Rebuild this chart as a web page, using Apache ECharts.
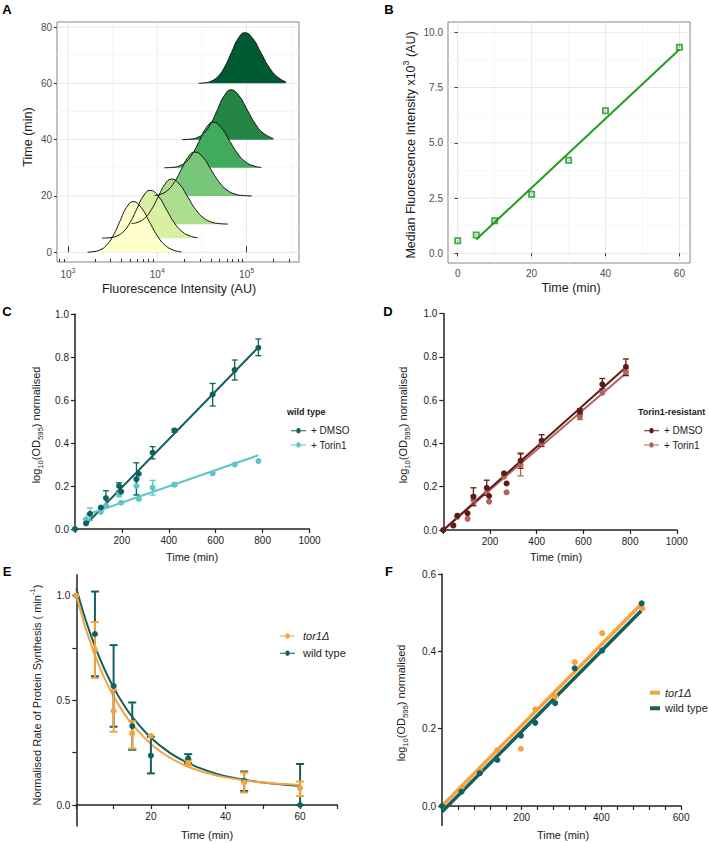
<!DOCTYPE html>
<html>
<head>
<meta charset="utf-8">
<script src="https://cdn.jsdelivr.net/npm/echarts@6/dist/echarts.min.js"></script>
<style>
html,body{margin:0;padding:0;background:#ffffff;}
#chart{width:709px;height:843px;}
</style>
</head>
<body>
<div id="chart"></div>
<script>
// ================= DATA =================
// Panel A: ridgelines, x = log10(fluorescence), y = time baseline + density height
const ridgeTimes = [60, 40, 30, 20, 10, 5, 0];
const ridge60 = [[4.46,60.05],[4.53,60.2],[4.605,60.79],[4.68,62.44],[4.755,65.84],[4.83,70.92],[4.905,75.89],[4.98,78],[5.07,75.89],[5.16,70.92],[5.25,65.84],[5.34,62.44],[5.44,60.5]];
const ridge40 = [[4.28,40.03],[4.375,40.2],[4.45,40.78],[4.525,42.39],[4.60,45.75],[4.675,50.74],[4.75,55.62],[4.825,57.7],[4.915,55.62],[5.005,50.74],[5.095,45.75],[5.185,42.39],[5.30,40.4]];
const ridge30 = [[4.08,30.03],[4.175,30.18],[4.25,30.71],[4.325,32.19],[4.40,35.26],[4.475,39.83],[4.55,44.30],[4.625,46.2],[4.715,44.30],[4.805,39.83],[4.895,35.26],[4.985,32.19],[5.075,30.71],[5.165,30.18]];
const ridge20 = [[3.97,20.17],[4.045,20.68],[4.12,22.11],[4.195,25.07],[4.27,29.46],[4.345,33.77],[4.42,35.6],[4.51,33.77],[4.60,29.46],[4.69,25.07],[4.78,22.11],[4.87,20.68],[4.96,20.17],[5.06,20.03]];
const ridge10 = [[3.71,10.18],[3.785,10.70],[3.86,12.16],[3.935,15.20],[4.01,19.70],[4.085,24.12],[4.16,26],[4.25,24.12],[4.34,19.70],[4.43,15.20],[4.52,12.16],[4.61,10.70],[4.70,10.18],[4.79,10.03]];
const ridge5  = [[3.38,5.03],[3.47,5.19],[3.545,5.75],[3.62,7.30],[3.695,10.52],[3.77,15.31],[3.845,20.0],[3.92,22],[4.01,20.0],[4.10,15.31],[4.19,10.52],[4.28,7.30],[4.37,5.75],[4.45,5.15]];
const ridge0  = [[3.22,0.05],[3.28,0.2],[3.355,0.79],[3.43,2.44],[3.505,5.84],[3.58,10.92],[3.655,15.89],[3.73,18],[3.82,15.89],[3.91,10.92],[4.00,5.84],[4.09,2.44],[4.18,0.79],[4.27,0.15]];
const ridgeData = [ridge60, ridge40, ridge30, ridge20, ridge10, ridge5, ridge0];
const aMajorTickValues = [1000, 10000, 100000];
const aMinorTickValues = [800, 900, 2000, 3000, 4000, 5000, 6000, 7000, 8000, 9000, 20000, 30000, 40000, 50000, 60000, 70000, 80000, 90000, 200000, 300000];
const aYTicks = [0, 20, 40, 60, 80];
const aGridMajorX = [3, 4, 5], aGridMinorX = [3.5, 4.5, 5.5];
const aGridMajorY = [0, 20, 40, 60, 80], aGridMinorY = [10, 30, 50, 70];

// Panel B
const bTime = [0, 5, 10, 20, 30, 40, 60];
const bMedian = [0.57, 0.83, 1.47, 2.67, 4.21, 6.45, 9.32];
const bFit = [[5, 0.62], [60, 9.22]];
const bXTicks = [0, 20, 40, 60], bYTicks = [0, 2.5, 5, 7.5, 10];
const bGridMajorX = [0, 20, 40, 60], bGridMinorX = [10, 30, 50];
const bGridMajorY = [0, 2.5, 5, 7.5, 10], bGridMinorY = [1.25, 3.75, 6.25, 8.75];

// Panel C (wild type)
const cTime = [0, 47, 64, 110, 132, 188, 197, 262, 272, 331, 424, 587, 681, 782];
const cDmso = [0, 0.026, 0.071, 0.10, 0.144, 0.20, 0.174, 0.231, 0.257, 0.355, 0.459, 0.626, 0.74, 0.843];
const cTorin = [0, 0.045, 0.068, 0.08, 0.108, 0.161, 0.122, 0.20, 0.14, 0.192, 0.206, 0.259, 0.30, 0.316];
const cDmsoErr = [[132,0.108,0.178],[188,0.176,0.215],[262,0.158,0.308],[331,0.326,0.383],[424,0.45,0.465],[587,0.572,0.677],[681,0.693,0.786],[782,0.806,0.884]];
const cTorinErr = [[64,0.04,0.098],[188,0.15,0.172],[262,0.16,0.24],[331,0.158,0.226],[424,0.20,0.213]];
const cDmsoFit = [[45, 0.02], [782, 0.845]];
const cTorinFit = [[47, 0.065], [782, 0.343]];

// Panel D (Torin1-resistant)
const dTime = [0, 43, 60, 104, 129, 186, 196, 260, 271, 331, 421, 585, 681, 782];
const dDmso = [0, 0.022, 0.066, 0.077, 0.154, 0.195, 0.157, 0.262, 0.215, 0.32, 0.413, 0.547, 0.673, 0.754];
const dTorin = [0, 0.02, 0.06, 0.051, 0.139, 0.172, 0.131, 0.246, 0.174, 0.30, 0.40, 0.523, 0.634, 0.731];
const dDmsoErr = [[129,0.112,0.195],[186,0.16,0.23],[331,0.285,0.355],[421,0.386,0.44],[585,0.535,0.56],[681,0.652,0.70],[782,0.713,0.79]];
const dTorinErr = [[129,0.12,0.16],[331,0.25,0.35],[585,0.51,0.535],[782,0.72,0.745]];
const dDmsoFit = [[0, 0], [782, 0.752]];
const dTorinFit = [[0, 0], [782, 0.724]];

// Panel E
const eTime = [0, 5, 10, 15, 20, 30, 45, 60];
const eTor = [1.0, 0.74, 0.45, 0.342, 0.331, 0.202, 0.108, 0.08];
const eWt = [1.0, 0.817, 0.569, 0.377, 0.236, 0.223, 0.115, 0.0];
const eTorErr = [[5,0.607,0.874],[10,0.35,0.55],[15,0.27,0.40],[30,0.19,0.215],[45,0.06,0.155],[60,0.043,0.112]];
const eWtErr = [[5,0.615,1.02],[10,0.374,0.764],[15,0.264,0.49],[20,0.151,0.326],[30,0.20,0.243],[45,0.067,0.16],[60,0.0,0.196]];
const eFitT = [0, 2.5, 5, 7.5, 10, 12.5, 15, 20, 25, 30, 35, 40, 50, 60];
const eTorFit = [1.0, 0.845, 0.716, 0.609, 0.520, 0.446, 0.385, 0.292, 0.227, 0.183, 0.153, 0.132, 0.107, 0.096];
const eWtFit = [1.035, 0.885, 0.758, 0.651, 0.561, 0.485, 0.421, 0.321, 0.250, 0.200, 0.164, 0.138, 0.107, 0.091];

// Panel F
const fTorT = [0, 49, 95, 139, 198, 234, 284, 333, 402, 503];
const fTor = [0, 0.047, 0.091, 0.145, 0.148, 0.25, 0.283, 0.372, 0.447, 0.511];
const fWtT = [0, 49, 95, 139, 198, 234, 284, 333, 402, 501];
const fWt = [0, 0.037, 0.085, 0.119, 0.182, 0.215, 0.266, 0.356, 0.402, 0.524];
const fTorFit = [[0, 0.0], [500, 0.522]];
const fWtFit = [[0, -0.015], [500, 0.505]];

// ================= STYLES =================
const ridgeColors = ['#005a32', '#238443', '#41ab5d', '#78c679', '#addd8e', '#d9f0a3', '#ffffcc'];
const TEAL = '#12615e', CYAN = '#5cc5c9', BROWN = '#5c1d16', ROSE = '#b3625f', ORANGE = '#f6a23f', GREEN = '#1f9e1f';
const FONT = 'Liberation Sans, Arial, sans-serif';
const zip = (a, b) => a.map((v, i) => [v, b[i]]);
const lineDotIcon = 'path://M0,3.25H7.5A3,3 0 0 1 13.5,3.25H21V4.75H13.5A3,3 0 0 1 7.5,4.75H0Z';

function gridLines(xi, yi, vals, dir, color, w) {
  return {
    type: 'custom', xAxisIndex: xi, yAxisIndex: yi, silent: true, z: 0, animation: false,
    data: vals.map(v => [v, v]), encode: { x: 0, y: 1 },
    renderItem: (params, api) => {
      const cs = params.coordSys, v = api.value(0);
      if (dir === 'v') {
        const px = api.coord([v, v])[0];
        return { type: 'line', shape: { x1: px, y1: cs.y, x2: px, y2: cs.y + cs.height }, style: { stroke: color, lineWidth: w } };
      }
      const py = api.coord([v, v])[1];
      return { type: 'line', shape: { x1: cs.x, y1: py, x2: cs.x + cs.width, y2: py }, style: { stroke: color, lineWidth: w } };
    }
  };
}
function errBars(xi, yi, data, color, cap, w) {
  return {
    type: 'custom', xAxisIndex: xi, yAxisIndex: yi, silent: true, z: 3, animation: false, clip: false,
    data: data, encode: { x: 0, y: [1, 2] },
    renderItem: (params, api) => {
      const x = api.value(0), a = api.coord([x, api.value(1)]), b = api.coord([x, api.value(2)]);
      const st = { stroke: color, lineWidth: w };
      return { type: 'group', children: [
        { type: 'line', shape: { x1: a[0], y1: a[1], x2: b[0], y2: b[1] }, style: st },
        { type: 'line', shape: { x1: a[0] - cap, y1: a[1], x2: a[0] + cap, y2: a[1] }, style: st },
        { type: 'line', shape: { x1: b[0] - cap, y1: b[1], x2: b[0] + cap, y2: b[1] }, style: st }
      ] };
    }
  };
}
function prismX(gi, min, max, interval, fmt) {
  return { gridIndex: gi, type: 'value', min: min, max: max, interval: interval,
    axisLine: { show: true, onZero: false, lineStyle: { color: '#222', width: 1.5 } },
    axisTick: { show: true, length: 4, lineStyle: { color: '#222', width: 1.2 } },
    axisLabel: { formatter: fmt, fontSize: 10, color: '#222', fontFamily: FONT, margin: 6 },
    splitLine: { show: false } };
}
function prismY(gi, min, max, interval, custom, labels, showLine) {
  const ax = { gridIndex: gi, type: 'value', min: min, max: max,
    axisLine: { show: showLine !== false, onZero: false, lineStyle: { color: '#222', width: 1.5 } },
    axisTick: { show: true, length: 4, lineStyle: { color: '#222', width: 1.2 } },
    axisLabel: { formatter: v => v.toFixed(1), fontSize: 10, color: '#222', fontFamily: FONT, margin: 6 },
    splitLine: { show: false } };
  if (interval) ax.interval = interval;
  if (custom) { ax.axisTick.customValues = custom; ax.axisLabel.customValues = labels; }
  return ax;
}
function lineOnlyY(gi, min, max) {
  return { gridIndex: gi, type: 'value', min: min, max: max,
    axisLine: { show: true, onZero: false, lineStyle: { color: '#222', width: 1.5 } },
    axisTick: { show: false }, axisLabel: { show: false }, splitLine: { show: false } };
}
function hiddenX(gi) {
  return { gridIndex: gi, type: 'value', min: 0, max: 1, show: false };
}
function txt(x, y, text, size, opts) {
  opts = opts || {};
  return { type: 'text', x: x, y: y, rotation: opts.rot || 0, silent: true,
    style: { text: text, fill: opts.color || '#1a1a1a', fontSize: size, fontFamily: FONT,
      fontWeight: opts.bold ? 'bold' : 'normal', align: opts.align || 'center', verticalAlign: 'middle',
      textAlign: opts.align || 'center', textVerticalAlign: 'middle', lineHeight: size + 6,
      rich: { sub: { fontSize: size * 0.7, fontFamily: FONT, verticalAlign: 'bottom', fill: opts.color || '#1a1a1a' },
              sup: { fontSize: size * 0.7, fontFamily: FONT, verticalAlign: 'top', fill: opts.color || '#1a1a1a' } } } };
}

// ================= OPTION =================
const greyLabel = { color: '#4d4d4d', fontSize: 10, fontFamily: FONT, margin: 5 };
const greyTick = { show: true, length: 3, lineStyle: { color: '#333', width: 1 } };

const option = {
  animation: false,
  backgroundColor: '#ffffff',
  grid: [
    { left: 57, top: 22, width: 242, height: 240, show: true, borderColor: '#858585', borderWidth: 1 },
    { left: 448, top: 22, width: 242, height: 241, show: true, borderColor: '#858585', borderWidth: 1 },
    { left: 75, top: 314, width: 234.5, height: 215 },
    { left: 443.3, top: 313.5, width: 233.5, height: 216.5 },
    { left: 76.3, top: 574.8, width: 261.1, height: 230.2 },
    { left: 442, top: 574, width: 239.1, height: 232 },
    { left: 76.3, top: 574.8, width: 261.1, height: 251.2 },
    { left: 442, top: 574, width: 239.1, height: 251.4 }
  ],
  xAxis: [
    { gridIndex: 0, type: 'value', min: 2.877, max: 5.587, axisLine: { show: false }, splitLine: { show: false },
      axisTick: { show: true, inside: true, length: 6, customValues: aMajorTickValues.map(Math.log10), lineStyle: { color: '#333' } },
      axisLabel: Object.assign({}, greyLabel, { customValues: aMajorTickValues.map(Math.log10), lineHeight: 14,
        formatter: v => '10{sup|' + Math.round(v) + '}', rich: { sup: { fontSize: 7, verticalAlign: 'top', color: '#4d4d4d', fontFamily: FONT } } }) },
    { gridIndex: 0, type: 'value', position: 'bottom', min: 2.877, max: 5.587, axisLine: { show: false }, splitLine: { show: false },
      axisTick: { show: true, inside: true, length: 3, customValues: aMinorTickValues.map(Math.log10), lineStyle: { color: '#333' } },
      axisLabel: { show: false } },
    { gridIndex: 1, type: 'value', min: -2.63, max: 62.87, axisLine: { show: false }, splitLine: { show: false },
      axisTick: Object.assign({ customValues: bXTicks }, greyTick),
      axisLabel: Object.assign({ customValues: bXTicks }, greyLabel) },
    prismX(2, 0, 1000, 200, v => v === 0 ? '' : String(v)),
    prismX(3, 0, 1000, 200, v => v === 0 ? '' : String(v)),
    prismX(4, 0, 70, 10, v => (v === 20 || v === 40 || v === 60) ? String(v) : ''),
    prismX(5, 0, 600, 40, v => (v > 0 && v % 200 === 0) ? String(v) : ''),
    hiddenX(6),
    hiddenX(7)
  ],
  yAxis: [
    { gridIndex: 0, type: 'value', min: -3.45, max: 81.8, axisLine: { show: false }, splitLine: { show: false },
      axisTick: Object.assign({ customValues: aYTicks }, greyTick),
      axisLabel: Object.assign({ customValues: aYTicks }, greyLabel) },
    { gridIndex: 1, type: 'value', min: -0.439, max: 10.466, axisLine: { show: false }, splitLine: { show: false },
      axisTick: Object.assign({ customValues: bYTicks }, greyTick),
      axisLabel: Object.assign({ customValues: bYTicks, formatter: v => v.toFixed(1) }, greyLabel) },
    prismY(2, 0, 1, 0.2),
    prismY(3, 0, 1, 0.2),
    prismY(4, 0, 1.1, null, [0, 0.25, 0.5, 0.75, 1], [0, 0.5, 1], false),
    prismY(5, 0, 0.6, 0.2, null, null, false),
    lineOnlyY(6, -0.1, 1.1),
    lineOnlyY(7, -0.05, 0.6)
  ],
  legend: [
    { left: 286, top: 419.7, orient: 'vertical', itemWidth: 15, itemHeight: 6, itemGap: 2.3, selectedMode: false,
      formatter: n => n.slice(2), textStyle: { fontSize: 10, lineHeight: 12, color: '#222', fontFamily: FONT },
      data: [{ name: 'C|+ DMSO', icon: lineDotIcon }, { name: 'C|+ Torin1', icon: lineDotIcon }] },
    { left: 639, top: 419.7, orient: 'vertical', itemWidth: 15, itemHeight: 6, itemGap: 2.3, selectedMode: false,
      formatter: n => n.slice(2), textStyle: { fontSize: 10, lineHeight: 12, color: '#222', fontFamily: FONT },
      data: [{ name: 'D|+ DMSO', icon: lineDotIcon }, { name: 'D|+ Torin1', icon: lineDotIcon }] },
    { left: 275, top: 625, orient: 'vertical', itemWidth: 15, itemHeight: 6, itemGap: 5.3, selectedMode: false,
      formatter: n => n.slice(2), textStyle: { fontSize: 11, lineHeight: 12, color: '#222', fontFamily: FONT, padding: [0, 0, 0, 3] },
      data: [{ name: 'E|tor1Δ', icon: lineDotIcon, textStyle: { fontStyle: 'italic' } }, { name: 'E|wild type', icon: lineDotIcon }] },
    { left: 645, top: 681.7, orient: 'vertical', itemWidth: 10, itemHeight: 4, itemGap: 3.6, selectedMode: false,
      formatter: n => n.slice(2), textStyle: { fontSize: 11, lineHeight: 12, color: '#222', fontFamily: FONT },
      data: [{ name: 'F|tor1Δ', icon: 'rect', textStyle: { fontStyle: 'italic' } }, { name: 'F|wild type', icon: 'rect' }] }
  ],
  graphic: { elements: [
    txt(7, 9, 'A', 13, { bold: true, color: '#000' }),
    txt(389, 9, 'B', 13, { bold: true, color: '#000' }),
    txt(7, 311, 'C', 13, { bold: true, color: '#000' }),
    txt(388, 311, 'D', 13, { bold: true, color: '#000' }),
    txt(7, 571, 'E', 13, { bold: true, color: '#000' }),
    txt(389, 571, 'F', 13, { bold: true, color: '#000' }),
    txt(179, 289, 'Fluorescence Intensity (AU)', 12.5),
    txt(28, 137, 'Time (min)', 12.5, { rot: Math.PI / 2 }),
    txt(571, 288, 'Time (min)', 12.5),
    txt(411, 145, 'Median Fluorescence Intensity x10{sup|3} (AU)', 12.5, { rot: Math.PI / 2 }),
    txt(192, 556.7, 'Time (min)', 11),
    txt(36, 425, 'log{sub|10}(OD{sub|595}) normalised', 11, { rot: Math.PI / 2 }),
    txt(556, 556.7, 'Time (min)', 11),
    txt(402.5, 425, 'log{sub|10}(OD{sub|595}) normalised', 11, { rot: Math.PI / 2 }),
    txt(287, 411.7, 'wild type', 9, { bold: true, align: 'left' }),
    txt(638, 411.7, 'Torin1-resistant', 9, { bold: true, align: 'left' }),
    txt(207, 835, 'Time (min)', 11),
    txt(37, 695, 'Normalised Rate of Protein Synthesis ( min{sup|-1})', 11, { rot: Math.PI / 2 }),
    txt(563, 835, 'Time (min)', 11),
    txt(401, 703, 'log{sub|10}(OD{sub|595}) normalised', 11, { rot: Math.PI / 2 })
  ] },
  series: []
};

const S = option.series;
// ---- Panel A
S.push(gridLines(0, 0, aGridMajorX, 'v', '#e8e8e8', 1));
S.push(gridLines(0, 0, aGridMinorX, 'v', '#f2f2f2', 0.6));
S.push(gridLines(0, 0, aGridMajorY, 'h', '#e8e8e8', 1));
S.push(gridLines(0, 0, aGridMinorY, 'h', '#f2f2f2', 0.6));
ridgeData.forEach((d, i) => {
  S.push({ type: 'line', xAxisIndex: 0, yAxisIndex: 0, data: d, smooth: 0.5, symbol: 'none', z: 2,
    lineStyle: { color: '#111', width: 1 },
    areaStyle: { color: ridgeColors[i], opacity: 1, origin: ridgeTimes[i] } });
});
// ---- Panel B
S.push(gridLines(2, 1, bGridMajorX, 'v', '#e8e8e8', 1));
S.push(gridLines(2, 1, bGridMinorX, 'v', '#f2f2f2', 0.6));
S.push(gridLines(2, 1, bGridMajorY, 'h', '#e8e8e8', 1));
S.push(gridLines(2, 1, bGridMinorY, 'h', '#f2f2f2', 0.6));
S.push({ type: 'line', xAxisIndex: 2, yAxisIndex: 1, data: bFit, symbol: 'none', z: 2, lineStyle: { color: GREEN, width: 2 } });
S.push({ type: 'scatter', xAxisIndex: 2, yAxisIndex: 1, data: zip(bTime, bMedian), z: 3,
  symbol: 'path://M0,0H10V10H0Z M2.6,2.6V7.4H7.4V2.6Z M3.2,3.2L5,4.5L6.8,3.2L5.5,5L6.8,6.8L5,5.5L3.2,6.8L4.5,5Z',
  symbolSize: 7, itemStyle: { color: '#199419' } });
// ---- Panel C
S.push({ type: 'line', xAxisIndex: 3, yAxisIndex: 2, data: cDmsoFit, symbol: 'none', z: 2, lineStyle: { color: TEAL, width: 2 } });
S.push({ type: 'line', xAxisIndex: 3, yAxisIndex: 2, data: cTorinFit, symbol: 'none', z: 2, lineStyle: { color: CYAN, width: 2 } });
S.push(errBars(3, 2, cTorinErr, CYAN, 3, 1.3));
S.push(errBars(3, 2, cDmsoErr, TEAL, 3, 1.3));
S.push({ name: 'C|+ Torin1', type: 'scatter', xAxisIndex: 3, yAxisIndex: 2, data: zip(cTime, cTorin), symbolSize: 6, z: 4, itemStyle: { color: CYAN, opacity: 1 } });
S.push({ name: 'C|+ DMSO', type: 'scatter', xAxisIndex: 3, yAxisIndex: 2, data: zip(cTime, cDmso), symbolSize: 6, z: 4, itemStyle: { color: TEAL, opacity: 1 } });
// ---- Panel D
S.push({ type: 'line', xAxisIndex: 4, yAxisIndex: 3, data: dTorinFit, symbol: 'none', z: 2, lineStyle: { color: ROSE, width: 2 } });
S.push({ type: 'line', xAxisIndex: 4, yAxisIndex: 3, data: dDmsoFit, symbol: 'none', z: 2, lineStyle: { color: BROWN, width: 2 } });
S.push(errBars(4, 3, dTorinErr, ROSE, 3, 1.3));
S.push(errBars(4, 3, dDmsoErr, BROWN, 3, 1.3));
S.push({ name: 'D|+ Torin1', type: 'scatter', xAxisIndex: 4, yAxisIndex: 3, data: zip(dTime, dTorin), symbolSize: 6, z: 4, itemStyle: { color: ROSE, opacity: 1 } });
S.push({ name: 'D|+ DMSO', type: 'scatter', xAxisIndex: 4, yAxisIndex: 3, data: zip(dTime, dDmso), symbolSize: 6, z: 4, itemStyle: { color: BROWN, opacity: 1 } });
// ---- Panel E
S.push({ type: 'line', xAxisIndex: 5, yAxisIndex: 4, data: zip(eFitT, eWtFit), smooth: 0.3, symbol: 'none', z: 2, clip: false, lineStyle: { color: TEAL, width: 2 } });
S.push({ type: 'line', xAxisIndex: 5, yAxisIndex: 4, data: zip(eFitT, eTorFit), smooth: 0.3, symbol: 'none', z: 2, clip: false, lineStyle: { color: ORANGE, width: 2 } });
S.push(errBars(5, 4, eWtErr, TEAL, 4, 2));
S.push(errBars(5, 4, eTorErr, ORANGE, 4, 2));
S.push({ name: 'E|wild type', type: 'scatter', xAxisIndex: 5, yAxisIndex: 4, data: zip(eTime, eWt), symbolSize: 6, z: 4, clip: false, itemStyle: { color: TEAL, opacity: 1 } });
S.push({ name: 'E|tor1Δ', type: 'scatter', xAxisIndex: 5, yAxisIndex: 4, data: zip(eTime, eTor), symbolSize: 6, z: 4, clip: false, itemStyle: { color: ORANGE, opacity: 1 } });
// ---- Panel F
S.push({ type: 'line', xAxisIndex: 6, yAxisIndex: 5, data: fWtFit, symbol: 'none', z: 2, clip: false, lineStyle: { color: TEAL, width: 3.5 } });
S.push({ type: 'line', xAxisIndex: 6, yAxisIndex: 5, data: fTorFit, symbol: 'none', z: 2, clip: false, lineStyle: { color: ORANGE, width: 3.5 } });
S.push({ name: 'F|tor1Δ', type: 'scatter', xAxisIndex: 6, yAxisIndex: 5, data: zip(fTorT, fTor), symbolSize: 6, z: 4, clip: false, itemStyle: { color: ORANGE, opacity: 1 } });
S.push({ name: 'F|wild type', type: 'scatter', xAxisIndex: 6, yAxisIndex: 5, data: zip(fWtT, fWt), symbolSize: 6, z: 4, clip: false, itemStyle: { color: TEAL, opacity: 1 } });

const chart = echarts.init(document.getElementById('chart'), null, { renderer: 'svg', width: 709, height: 843 });
chart.setOption(option);
</script>
</body>
</html>
